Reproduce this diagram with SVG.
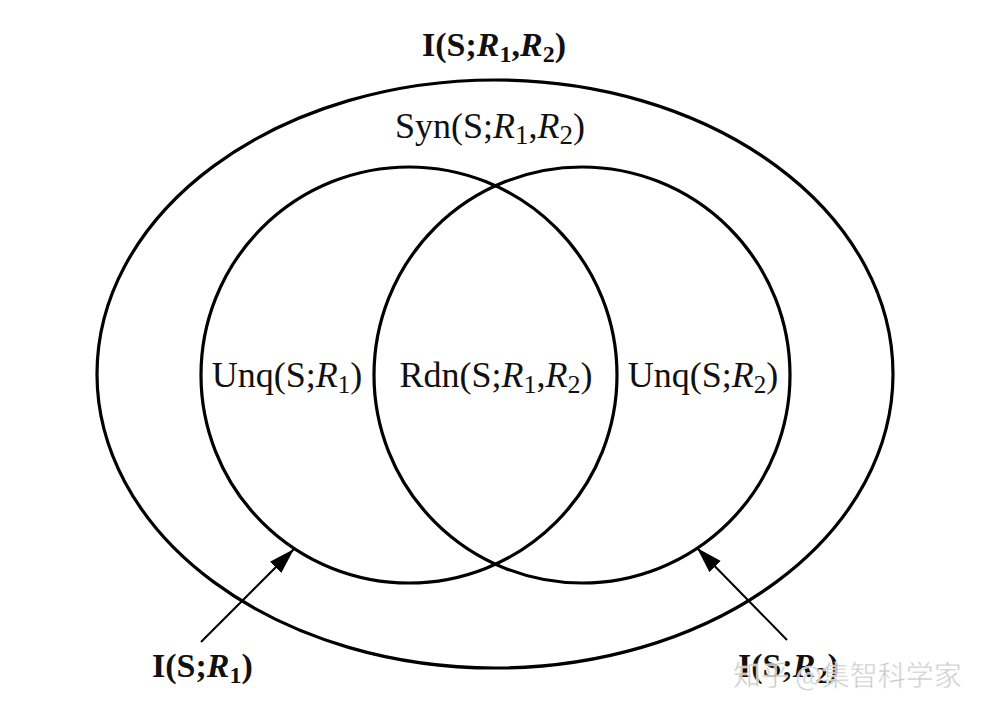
<svg xmlns="http://www.w3.org/2000/svg" width="1004" height="716" viewBox="0 0 1004 716">
<style>
.shape{fill:none;stroke:#000;stroke-width:3.2}
.conn{stroke:#000;stroke-width:2;fill:none}
.t{font-family:"Liberation Serif","Times New Roman",serif;font-size:36px;fill:#111}
.b{font-weight:bold;font-size:34px}
.i{font-style:italic}
.wm{font-family:"Noto Sans CJK SC","Noto Sans",sans-serif;font-size:28px;fill:#c4c4c4;stroke:#fff;stroke-width:0.6;opacity:0.9}
</style>
<defs>
<marker id="ah" markerUnits="userSpaceOnUse" markerWidth="28" markerHeight="18" refX="26" refY="8" orient="auto">
<path d="M0,0 L26,8 L0,16 Z" fill="#000"/>
</marker>
</defs>
<rect width="1004" height="716" fill="#fff"/>
<g id="outer">
<ellipse class="shape" cx="495" cy="374" rx="398" ry="294"/>
<text class="t b" x="494" y="56" text-anchor="middle">I(S;<tspan class="i">R</tspan><tspan font-size="24" dy="6">1</tspan><tspan dy="-6">,</tspan><tspan class="i">R</tspan><tspan font-size="24" dy="6">2</tspan><tspan dy="-6">)</tspan></text>
<text class="t" x="490" y="138" text-anchor="middle" font-size="39">Syn(S;<tspan class="i">R</tspan><tspan font-size="27" dy="6">1</tspan><tspan dy="-6">,</tspan><tspan class="i">R</tspan><tspan font-size="27" dy="6">2</tspan><tspan dy="-6">)</tspan></text>
</g>
<g id="circle1">
<circle class="shape" cx="409" cy="375" r="208"/>
<text class="t" x="287" y="387" text-anchor="middle">Unq(S;<tspan class="i">R</tspan><tspan font-size="25" dy="6">1</tspan><tspan dy="-6">)</tspan></text>
</g>
<g id="circle2">
<circle class="shape" cx="582" cy="375" r="208"/>
<text class="t" x="703" y="387" text-anchor="middle">Unq(S;<tspan class="i">R</tspan><tspan font-size="25" dy="6">2</tspan><tspan dy="-6">)</tspan></text>
</g>
<g id="overlap">
<text class="t" x="496" y="387" text-anchor="middle" font-size="37">Rdn(S;<tspan class="i">R</tspan><tspan font-size="26" dy="6">1</tspan><tspan dy="-6">,</tspan><tspan class="i">R</tspan><tspan font-size="26" dy="6">2</tspan><tspan dy="-6">)</tspan></text>
</g>
<g id="label1">
<text class="t b" x="152" y="677">I(S;<tspan class="i">R</tspan><tspan font-size="24" dy="6">1</tspan><tspan dy="-6">)</tspan></text>
</g>
<g id="label2">
<text class="t b" x="738" y="677">I(S;<tspan class="i">R</tspan><tspan font-size="24" dy="6">2</tspan><tspan dy="-6">)</tspan></text>
</g>
<g id="connectors">
<line class="conn" x1="201" y1="642" x2="294" y2="549" marker-end="url(#ah)"/>
<line class="conn" x1="787" y1="640" x2="697" y2="548" marker-end="url(#ah)"/>
</g>
<text class="wm" x="733" y="686">知乎 @集智科学家</text>
</svg>
